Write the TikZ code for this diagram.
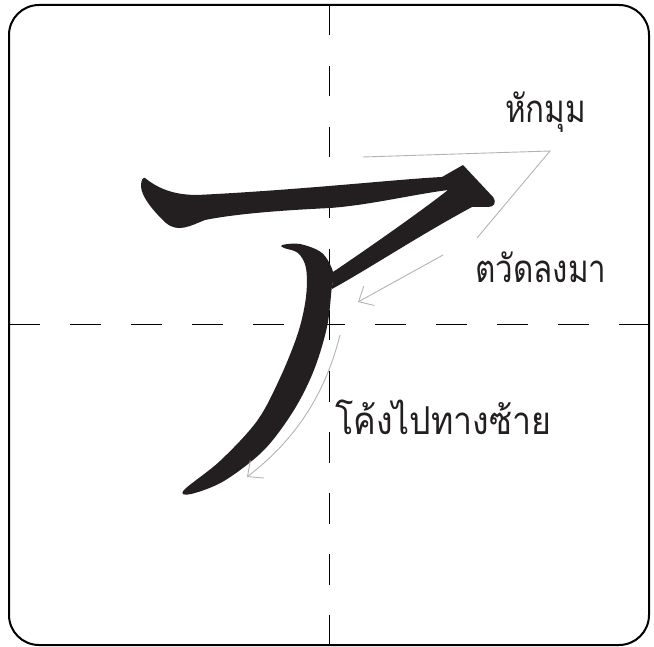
\documentclass[tikz,border=0pt]{standalone}
\usepackage{fontspec}
\usepackage{graphicx}
\newfontfamily\thaifont[Script=Thai]{Loma}
\definecolor{ink}{HTML}{231F20}
\definecolor{guide}{HTML}{B3B3B3}
\tikzset{
  frame/.style={line width=2pt, rounded corners=30pt},
  axis/.style={line width=1pt, dash pattern=on 30.5pt off 30.5pt},
  guideline/.style={guide, line width=0.9pt},
  guidearrow/.style={guide, line width=0.9pt, -{Straight Barb[length=12pt,width=22pt,line width=0.9pt]}},
  lbl/.style={font=\thaifont\fontsize{32}{38}\selectfont, anchor=base west, inner sep=0pt, text=ink}
}
\usetikzlibrary{arrows.meta}
\newcommand{\tall}[2][0.98]{\scalebox{#1}[1.2]{#2}}
\begin{document}
\begin{tikzpicture}[x=1pt,y=-1pt]
\useasboundingbox (0,0) rectangle (654,647);
\draw[frame] (9,5) rectangle (649,645);
\coordinate (vt) at (329.5,5);
\coordinate (vb) at (329.5,645);
\coordinate (hl) at (9,325);
\coordinate (hr) at (649,325);
\draw[axis] (vt) -- (vb);
\draw[axis] (hl) -- (hr);
% horizontal + diagonal stroke
\fill[ink] (145,178) .. controls (155,186) and (170,195) .. (197,195)
  .. controls (300,190) and (400,179) .. (442,177)
  -- (463,165)
  -- (493,197) .. controls (497,203) and (494,207) .. (488,207) -- (472,207)
  .. controls (420,235) and (370,268) .. (332,289)
  -- (333,272)
  .. controls (370,247) and (420,212) .. (448,190)
  .. controls (410,195) and (370,205) .. (330,208)
  .. controls (290,210) and (240,213) .. (205,220)
  .. controls (190,226) and (178,233) .. (166,223)
  .. controls (153,211) and (141,196) .. (141,186)
  .. controls (141,180) and (143,177) .. (145,178) -- cycle;
% curved stroke
\fill[ink] plot[smooth cycle, tension=0.55] coordinates {
  (282,245) (300,244) (322,253) (333,272) (331.5,290) (327,327) (314,370) (294,410) (264,450) (224,481) (191,494)
  (184,490) (220,461) (257,421) (280,378) (298,333) (306,297) (306,268) (298,253) (284,248)};
% guides
\coordinate (g1a) at (363,157);
\coordinate (g1b) at (550,151);
\coordinate (g1c) at (477,238);
\draw[guideline] (g1a) -- (g1b) -- (g1c);
\coordinate (g2a) at (443,255);
\coordinate (g2b) at (358,302);
\draw[guidearrow] (g2a) -- (g2b);
\coordinate (g3a) at (340,335);
\coordinate (g3b) at (247,477);
\draw[guidearrow] (g3a) .. controls (325,395) and (295,440) .. (g3b);
\node[lbl] (t1) at (505,123) {\tall{หักมุม}};
\node[lbl] (t2) at (475,283) {\tall{ตวัดลงมา}};
\node[lbl] (t3) at (335,435) {\tall[1.06]{โค้งไปทางซ้าย}};
\end{tikzpicture}
\end{document}
